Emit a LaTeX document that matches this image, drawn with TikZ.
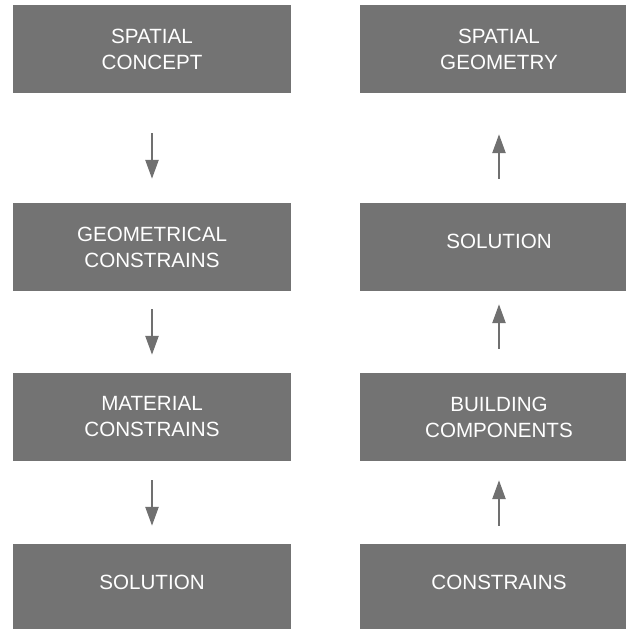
\documentclass[tikz,border=0pt]{standalone}
\usepackage{fontspec}
\setmainfont{Liberation Sans}
\usetikzlibrary{arrows.meta}
\definecolor{boxgray}{RGB}{115,115,115}
\definecolor{arrowgray}{RGB}{112,112,112}
\tikzset{
  stepbox/.style={fill=boxgray, draw=none, minimum width=278pt, minimum height=88pt,
    inner sep=0pt, text=white, align=center, font=\fontsize{20.6}{26}\selectfont},
  oneline/.style={text height=14.8pt, text depth=12pt},
  flow/.style={draw=arrowgray, line width=2.5pt, -{Triangle[width=13pt,length=19pt]}, arrowgray}
}
\begin{document}
\begin{tikzpicture}[x=1pt,y=-1pt]
  \useasboundingbox (0,0) rectangle (626,629);
  % left column: from concept down to solution
  \node[stepbox] (l1) at (152,49)  {SPATIAL\\CONCEPT};
  \node[stepbox] (l2) at (152,247) {GEOMETRICAL\\CONSTRAINS};
  \node[stepbox] (l3) at (152,417) {MATERIAL\\CONSTRAINS};
  \node[stepbox,oneline] (l4) at (152,588) {SOLUTION};
  % right column: from constraints up to geometry
  \node[stepbox] (r1) at (499,49)  {SPATIAL\\GEOMETRY};
  \node[stepbox,oneline] (r2) at (499,247) {SOLUTION};
  \node[stepbox] (r3) at (499,417) {BUILDING\\COMPONENTS};
  \node[stepbox,oneline] (r4) at (499,588) {CONSTRAINS};
  % downward arrows
  \draw[flow, shorten <=40pt, shorten >=24pt] (l1) -- (l2);
  \draw[flow, shorten <=18pt, shorten >=18pt] (l2) -- (l3);
  \draw[flow, shorten <=19pt, shorten >=18pt] (l3) -- (l4);
  % upward arrows
  \draw[flow, shorten <=18pt, shorten >=19pt] (r4) -- (r3);
  \draw[flow, shorten <=24pt, shorten >=13pt] (r3) -- (r2);
  \draw[flow, shorten <=24pt, shorten >=41pt] (r2) -- (r1);
\end{tikzpicture}
\end{document}
